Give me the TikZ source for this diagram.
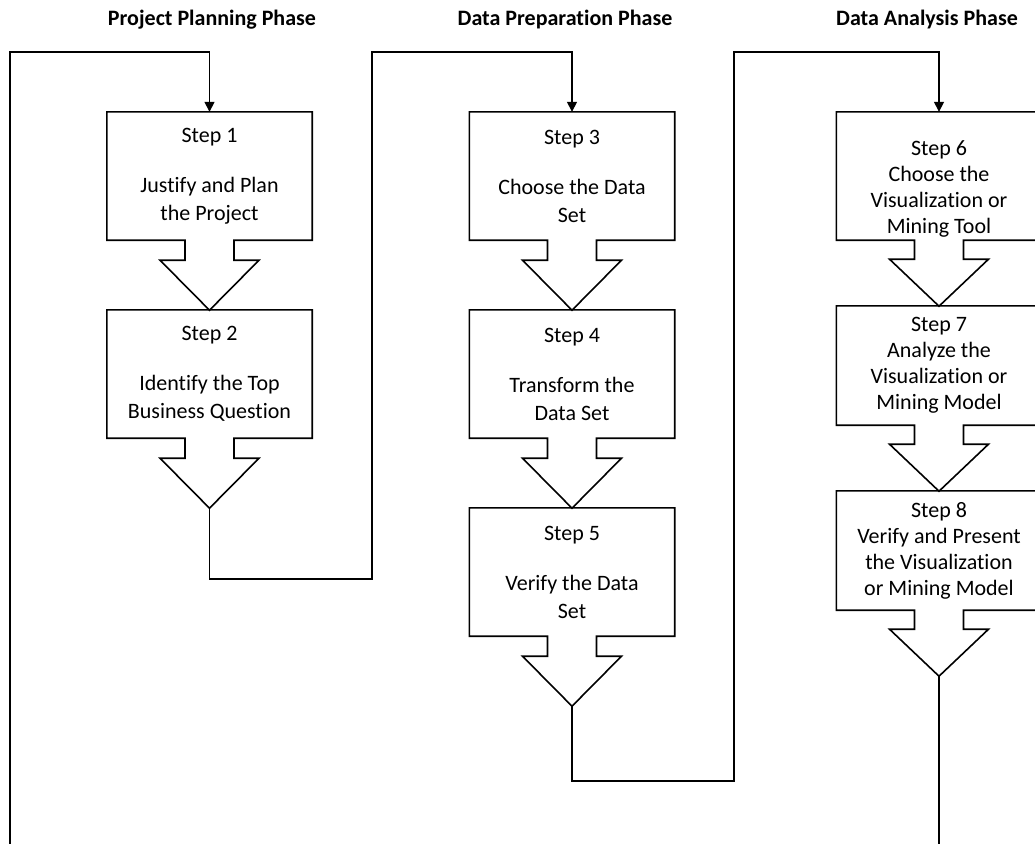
\documentclass[tikz,border=0pt]{standalone}
\usepackage{fontspec}
\setmainfont{Carlito}[Ligatures={NoCommon}]
\usetikzlibrary{arrows.meta,calc}

\tikzset{
    stepbox/.style={minimum width=205pt, minimum height=128pt, inner sep=0pt, align=center,
        font=\fontsize{22}{28}\selectfont},
    tallstep/.style={stepbox},
    flatstep/.style={stepbox, font=\fontsize{22}{26}\selectfont},
    phase/.style={font=\bfseries\fontsize{22}{26}\selectfont},
    outline/.style={draw=black, line width=1.6pt},
    link/.style={draw=black, line width=1.6pt, -{Triangle[width=10pt,length=10pt]}}
}

% box outline with the block arrow under it: node, stem length, head length
\newcommand{\stepshape}[3]{%
    \draw[outline] (#1.south west) |- (#1.north east) |- ($(#1.south)+(24.5,0)$)
        -- ++(0,#2) -- ++(25,0) -- ($(#1.south)+(0,#2+#3)$) coordinate (#1-tip)
        -- ++(-49.5,-#3) -- ++(25,0) -- ++(0,-#2) -- cycle;
}

\begin{document}
\begin{tikzpicture}[x=1pt, y=-1pt]
        \clip (0,0) rectangle (1035,843);

        \node[phase] (h1) at (212,20) {Project Planning Phase};
        \node[phase] (h2) at (565,20) {Data Preparation Phase};
        \node[phase] (h3) at (927,20) {Data Analysis Phase};

        \node[tallstep] (s1) at (209.5,176) {Step 1\\[22pt]Justify and Plan\\the Project};
        \node[tallstep] (s2) at (209.5,374) {Step 2\\[22pt]Identify the Top\\Business Question};
        \stepshape{s1}{20}{50}
        \stepshape{s2}{20}{50}

        \node[tallstep] (s3) at (572,176) {Step 3\\[22pt]Choose the Data\\Set};
        \node[tallstep] (s4) at (572,374) {Step 4\\[22pt]Transform the\\Data Set};
        \node[tallstep] (s5) at (572,572) {Step 5\\[22pt]Verify the Data\\Set};
        \stepshape{s3}{20}{50}
        \stepshape{s4}{20}{50}
        \stepshape{s5}{20}{50}

        \node[flatstep] (s6) at (939,176) {\rule{0pt}{40pt}Step 6\\Choose the\\Visualization or\\Mining Tool};
        \node[flatstep, minimum height=119pt] (s7) at (939,365.5) {Step 7\\Analyze the\\Visualization or\\Mining Model};
        \node[flatstep, minimum height=119pt] (s8) at (939,550.5) {Step 8\\Verify and Present\\the Visualization\\or Mining Model};
        \stepshape{s6}{19}{47}
        \stepshape{s7}{19}{47}
        \stepshape{s8}{19}{47}

        \coordinate (loop) at (10,850);
        \draw[link] (loop) |- ($(s1.north)+(0,-60)$) -- (s1.north);
        \draw[link] (s2-tip) -- ++(0,71) -| ($(s3.north)+(-200,-60)$) -| (s3.north);
        \draw[link] (s5-tip) -- ++(0,75) -| ($(s6.north)+(-205,-60)$) -| (s6.north);
        \draw[outline] (s8-tip) -- ++(0,180);
\end{tikzpicture}
\end{document}
